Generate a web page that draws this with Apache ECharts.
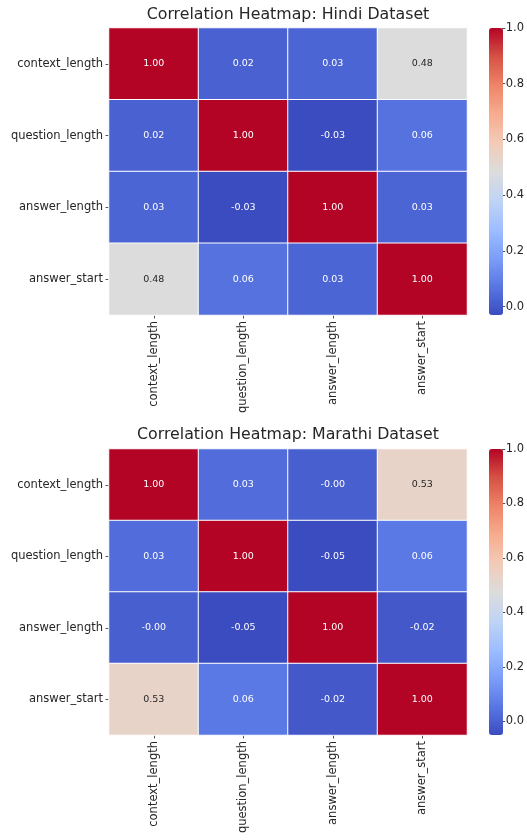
<!DOCTYPE html>
<html>
<head>
	<meta charset="UTF-8">
	<title>Correlation Heatmaps</title>
	<script src="https://cdn.jsdelivr.net/npm/echarts@6/dist/echarts.min.js"></script>
	<style>
		html, body { margin: 0; padding: 0; background: #fff; }
		#chart { width: 527px; height: 840px; }
	</style>
</head>
<body>
<div id="chart"></div>
<script>
// features (same order on both axes)
var features = ['context_length', 'question_length', 'answer_length', 'answer_start'];

// correlation matrices, row by row
var hindiCorr = [
	[1.00, 0.02, 0.03, 0.48],
	[0.02, 1.00, -0.03, 0.06],
	[0.03, -0.03, 1.00, 0.03],
	[0.48, 0.06, 0.03, 1.00]
];
var marathiCorr = [
	[1.00, 0.03, -0.004, 0.53],
	[0.03, 1.00, -0.05, 0.06],
	[-0.004, -0.05, 1.00, -0.02],
	[0.53, 0.06, -0.02, 1.00]
];

// colour bar ranges and ticks
var hindiRange = [-0.03, 1.0];
var marathiRange = [-0.05, 1.0];
var barTicks = [0.0, 0.2, 0.4, 0.6, 0.8, 1.0];

// coolwarm
var coolwarm = ['#3b4cc0', '#5977e3', '#7b9ff9', '#9ebeff', '#c0d4f5', '#dddcdc',
	'#f2cbb7', '#f7ac8e', '#ee8468', '#d65244', '#b40426'];

var FONT = 'DejaVu Sans';
var TXT = '#262626';

function toCells(mat, range) {
	var out = [];
	for (var r = 0; r < mat.length; r++) {
		for (var c = 0; c < mat[r].length; c++) {
			var v = mat[r][c];
			var t = (v - range[0]) / (range[1] - range[0]);
			out.push({
				value: [c, r, v],
				label: { color: (t > 0.3 && t < 0.7) ? TXT : '#ffffff' }
			});
		}
	}
	return out;
}

var myChart = echarts.init(document.getElementById('chart'), null, { renderer: 'canvas' });

var boxes = [
	{ top: 28, height: 287, title: 'Correlation Heatmap: Hindi Dataset', titleTop: 7, range: hindiRange, mat: hindiCorr },
	{ top: 449, height: 286, title: 'Correlation Heatmap: Marathi Dataset', titleTop: 427, range: marathiRange, mat: marathiCorr }
];

var option = {
	animation: false,
	backgroundColor: '#fff',
	textStyle: { fontFamily: FONT },
	title: [],
	grid: [],
	xAxis: [],
	yAxis: [],
	visualMap: [],
	series: []
};

boxes.forEach(function (b, i) {
	option.title.push({
		text: b.title,
		left: 288,
		textAlign: 'center',
		top: b.titleTop,
		padding: 0,
		textStyle: { fontFamily: FONT, fontSize: 15.8, fontWeight: 'normal', color: TXT }
	});
	// heatmap grid
	option.grid.push({ left: 109, top: b.top, width: 358, height: b.height });
	option.xAxis.push({
		type: 'category',
		gridIndex: i * 2,
		data: features,
		position: 'bottom',
		axisLine: { show: false },
		axisTick: { show: true, alignWithLabel: true, length: 3.5, lineStyle: { color: TXT, width: 0.8 } },
		axisLabel: { rotate: 90, color: TXT, fontFamily: FONT, fontSize: 11.5, margin: 6 },
		splitLine: { show: false }
	});
	option.yAxis.push({
		type: 'category',
		gridIndex: i * 2,
		data: features,
		inverse: true,
		axisLine: { show: false },
		axisTick: { show: true, alignWithLabel: true, length: 3.5, lineStyle: { color: TXT, width: 0.8 } },
		axisLabel: { color: TXT, fontFamily: FONT, fontSize: 11.5, margin: 6 },
		splitLine: { show: false }
	});
	// colour bar axis grid
	option.grid.push({ left: 489, top: b.top, width: 14, height: b.height });
	option.xAxis.push({ type: 'category', gridIndex: i * 2 + 1, data: [''], show: false });
	option.yAxis.push({
		type: 'value',
		gridIndex: i * 2 + 1,
		position: 'right',
		min: b.range[0],
		max: b.range[1],
		axisLine: { show: false },
		splitLine: { show: false },
		axisTick: { show: true, length: 3.5, lineStyle: { color: TXT, width: 0.8 }, customValues: barTicks },
		axisLabel: {
			color: TXT, fontFamily: FONT, fontSize: 11.5, margin: 4,
			customValues: barTicks,
			formatter: function (v) { return v.toFixed(1); }
		}
	});
	option.visualMap.push({
		type: 'continuous',
		seriesIndex: i,
		min: b.range[0],
		max: b.range[1],
		calculable: false,
		orient: 'vertical',
		left: 489,
		top: b.top,
		padding: 0,
		itemWidth: 14,
		itemHeight: b.height,
		inRange: { color: coolwarm },
		text: null,
		textStyle: { color: TXT }
	});
	option.series.push({
		type: 'heatmap',
		xAxisIndex: i * 2,
		yAxisIndex: i * 2,
		data: toCells(b.mat, b.range),
		itemStyle: { borderColor: '#ffffff', borderWidth: 1 },
		label: {
			show: true,
			fontFamily: FONT,
			fontSize: 9.5,
			formatter: function (p) { return p.value[2].toFixed(2); }
		},
		emphasis: { disabled: true }
	});
});

myChart.setOption(option);
</script>
</body>
</html>
